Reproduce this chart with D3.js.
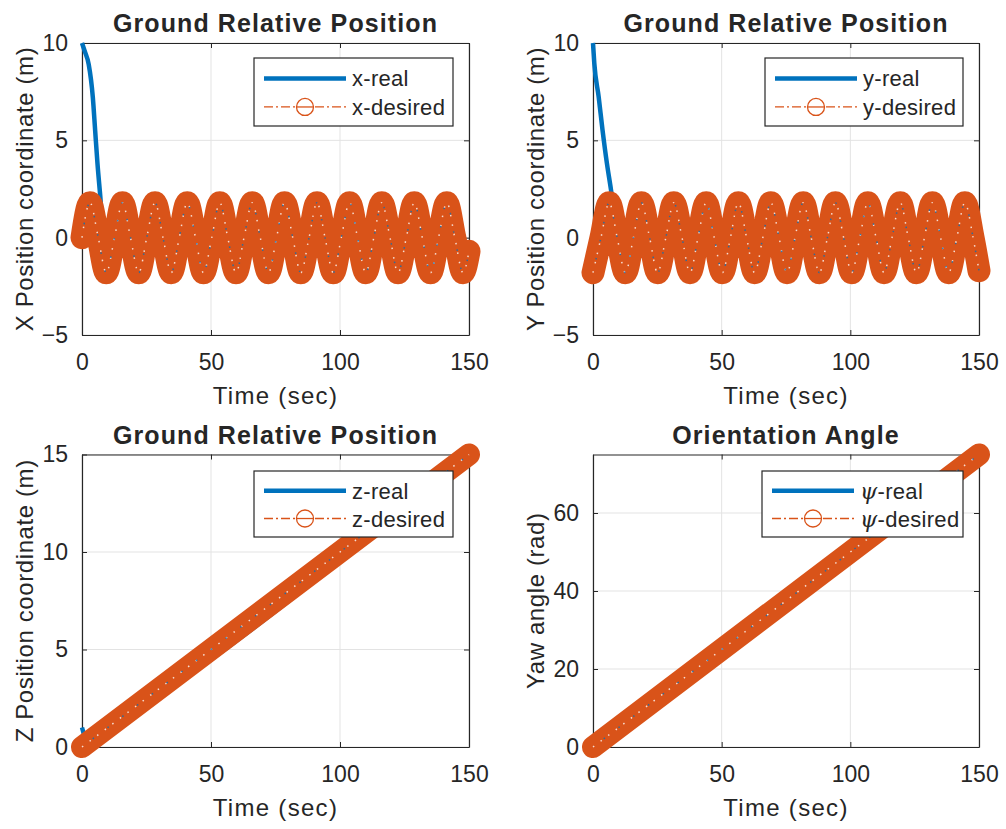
<!DOCTYPE html>
<html>
<head>
<meta charset="utf-8" />
<script src="https://d3js.org/d3.v7.min.js"></script>
<style>
  body { margin: 0; background: #fff; }
  svg { display: block; }
  text { font-family: "Liberation Sans", Arial, sans-serif; fill: #262626; }
</style>
</head>
<body>
<svg width="1006" height="829"></svg>
<script>
// time samples of the desired trajectories (peaks / zero crossings)
const tDes = [0.0, 3.1, 6.3, 9.4, 12.6, 15.7, 18.8, 22.0, 25.1, 28.3, 31.4, 34.6,
  37.7, 40.8, 44.0, 47.1, 50.3, 53.4, 56.5, 59.7, 62.8, 66.0, 69.1, 72.3,
  75.4, 78.5, 81.7, 84.8, 88.0, 91.1, 94.2, 97.4, 100.5, 103.7, 106.8, 110.0,
  113.1, 116.2, 119.4, 122.5, 125.7, 128.8, 131.9, 135.1, 138.2, 141.4, 144.5, 147.7, 150];
const xDes = [0, 1.8, 0, -1.8, 0, 1.8, 0, -1.8, 0, 1.8, 0, -1.8,
  0, 1.8, 0, -1.8, 0, 1.8, 0, -1.8, 0, 1.8, 0, -1.8,
  0, 1.8, 0, -1.8, 0, 1.8, 0, -1.8, 0, 1.8, 0, -1.8,
  0, 1.8, 0, -1.8, 0, 1.8, 0, -1.8, 0, 1.8, 0, -1.8, -0.7];
const yDes = [-1.8, 0, 1.8, 0, -1.8, 0, 1.8, 0, -1.8, 0, 1.8, 0,
  -1.8, 0, 1.8, 0, -1.8, 0, 1.8, 0, -1.8, 0, 1.8, 0,
  -1.8, 0, 1.8, 0, -1.8, 0, 1.8, 0, -1.8, 0, 1.8, 0,
  -1.8, 0, 1.8, 0, -1.8, 0, 1.8, 0, -1.8, 0, 1.8, 0, -1.7];

// start-up transients of the real trajectories (after that they track the desired ones)
const tXReal = [0, 1.0, 2.6, 4.2, 5.1, 6.0, 7.1];
const xRealStart = [10, 9.6, 8.9, 7.2, 5.5, 3.8, 2.1];
const tYReal = [0, 0.5, 2.2, 3.7, 5.4, 7.0];
const yRealStart = [10, 8.96, 7.24, 5.53, 3.82, 2.45];

const tZ = [0, 1.2, 2.5, 5, 150];
const zReal = [1.0, 0.5, 0.3, 0.5, 15];
const tZDes = [0, 150];
const zDes = [0, 15];

const tPsi = [0, 150];
const psiReal = [0, 75];
const psiDes = [0, 75];

const xTicks = [0, 50, 100, 150];
const blue = "#0072BD";
const orange = "#D95319";

function pairs(t, v) {
  return t.map((d, i) => [d, v[i]]);
}
// real = transient, then the tracked desired path
function tracked(tStart, vStart, tD, vD) {
  const last = tStart[tStart.length - 1];
  return pairs(tStart, vStart).concat(pairs(tD, vD).filter(d => d[0] > last + 1));
}

const panels = [
  { box: [82, 469, 43, 335], yDomain: [-5, 10], yTicks: [-5, 0, 5, 10],
    title: "Ground Relative Position", ylabel: "X Position coordinate (m)",
    real: tracked(tXReal, xRealStart, tDes, xDes), des: pairs(tDes, xDes), band: 23,
    curve: d3.curveMonotoneX, names: ["x-real", "x-desired"], legend: [254, 453, 58, 126] },
  { box: [593, 979, 43, 335], yDomain: [-5, 10], yTicks: [-5, 0, 5, 10],
    title: "Ground Relative Position", ylabel: "Y Position coordinate (m)",
    real: tracked(tYReal, yRealStart, tDes, yDes), des: pairs(tDes, yDes), band: 23,
    curve: d3.curveMonotoneX, names: ["y-real", "y-desired"], legend: [765, 963, 58, 126] },
  { box: [82, 469, 454.5, 747], yDomain: [0, 15], yTicks: [0, 5, 10, 15],
    title: "Ground Relative Position", ylabel: "Z Position coordinate (m)",
    real: pairs(tZ, zReal), des: pairs(tZDes, zDes), band: 22,
    curve: d3.curveMonotoneX, names: ["z-real", "z-desired"], legend: [254, 453, 471, 537] },
  { box: [593, 979, 454.5, 747], yDomain: [0, 75], yTicks: [0, 20, 40, 60],
    title: "Orientation Angle", ylabel: "Yaw angle (rad)",
    real: pairs(tPsi, psiReal), des: pairs(tPsi, psiDes), band: 22,
    curve: d3.curveLinear, names: ["ψ-real", "ψ-desired"], legend: [762, 963, 471, 537], greek: true }
];

const svg = d3.select("svg");

panels.forEach(p => {
  const [x0, x1, y0, y1] = p.box;
  const x = d3.scaleLinear().domain([0, 150]).range([x0, x1]);
  const y = d3.scaleLinear().domain(p.yDomain).range([y1, y0]);
  const g = svg.append("g");

  // grid
  g.selectAll("line.gx").data(xTicks).enter().append("line")
    .attr("x1", d => x(d)).attr("x2", d => x(d)).attr("y1", y0).attr("y2", y1)
    .attr("stroke", "#e3e3e3").attr("stroke-width", 1);
  g.selectAll("line.gy").data(p.yTicks).enter().append("line")
    .attr("x1", x0).attr("x2", x1).attr("y1", d => y(d)).attr("y2", d => y(d))
    .attr("stroke", "#e3e3e3").attr("stroke-width", 1);

  // axes (box on, ticks inside)
  const tk = 5;
  g.append("g").attr("transform", `translate(0,${y1})`)
    .call(d3.axisBottom(x).tickValues(xTicks).tickSizeInner(-tk).tickSizeOuter(0).tickPadding(19));
  g.append("g").attr("transform", `translate(0,${y0})`)
    .call(d3.axisTop(x).tickValues(xTicks).tickSizeInner(-tk).tickSizeOuter(0).tickFormat(""));
  g.append("g").attr("transform", `translate(${x0},0)`)
    .call(d3.axisLeft(y).tickValues(p.yTicks).tickSizeInner(-tk).tickSizeOuter(0).tickPadding(14));
  g.append("g").attr("transform", `translate(${x1},0)`)
    .call(d3.axisRight(y).tickValues(p.yTicks).tickSizeInner(-tk).tickSizeOuter(0).tickFormat(""));
  g.selectAll(".domain").attr("stroke", "#262626").attr("stroke-width", 1.2);
  g.selectAll(".tick line").attr("stroke", "#262626");
  g.selectAll(".tick text").style("font-size", "23px").attr("fill", "#262626")
    .style("font-family", "'Liberation Sans', Arial, sans-serif");

  // labels
  g.append("text").attr("x", (x0 + x1) / 2).attr("y", y0 - 11)
    .attr("text-anchor", "middle").style("font-size", "25px").style("font-weight", "bold")
    .style("letter-spacing", "1.1px").text(p.title);
  g.append("text").attr("x", (x0 + x1) / 2).attr("y", y1 + 69)
    .attr("text-anchor", "middle").style("font-size", "24px").style("letter-spacing", "1.3px")
    .text("Time (sec)");
  g.append("text").attr("transform", `translate(${x0 - 49},${(y0 + y1) / 2}) rotate(-90)`)
    .attr("text-anchor", "middle").style("font-size", "24px").style("letter-spacing", "0.6px")
    .text(p.ylabel);

  // data
  const line = d3.line().x(d => x(d[0])).y(d => y(d[1])).curve(p.curve);
  g.append("path").datum(p.real).attr("d", line)
    .attr("fill", "none").attr("stroke", blue).attr("stroke-width", 4.5)
    .attr("stroke-linejoin", "round");
  g.append("path").datum(p.des).attr("d", line)
    .attr("fill", "none").attr("stroke", orange).attr("stroke-width", p.band)
    .attr("stroke-linecap", "round").attr("stroke-linejoin", "round");
  // speckle of the hollow markers / real line showing inside the band
  g.append("path").datum(p.des).attr("d", line)
    .attr("fill", "none").attr("stroke", "#ffffff").attr("stroke-width", 1.5)
    .attr("stroke-dasharray", "1.5,8").attr("opacity", 0.8);
  g.append("path").datum(p.des).attr("d", line)
    .attr("fill", "none").attr("stroke", blue).attr("stroke-width", 1.5)
    .attr("stroke-dasharray", "1.5,17").attr("stroke-dashoffset", 5).attr("opacity", 0.8);

  // legend
  const [lx0, lx1, ly0, ly1] = p.legend;
  const lg = g.append("g");
  lg.append("rect").attr("x", lx0).attr("y", ly0).attr("width", lx1 - lx0).attr("height", ly1 - ly0)
    .attr("fill", "#fff").attr("stroke", "#262626").attr("stroke-width", 1.2);
  const r1 = ly0 + (ly1 - ly0) * 0.3, r2 = ly0 + (ly1 - ly0) * 0.72;
  const sx0 = lx0 + 10, sx1 = lx0 + 92;
  lg.append("line").attr("x1", sx0).attr("x2", sx1).attr("y1", r1).attr("y2", r1)
    .attr("stroke", blue).attr("stroke-width", 4.5);
  lg.append("line").attr("x1", sx0).attr("x2", sx1).attr("y1", r2).attr("y2", r2)
    .attr("stroke", orange).attr("stroke-width", 1.3).attr("stroke-dasharray", "9,3,2,3");
  lg.append("circle").attr("cx", (sx0 + sx1) / 2).attr("cy", r2).attr("r", 8.5)
    .attr("fill", "#fff").attr("stroke", orange).attr("stroke-width", 1.3);
  lg.append("line").attr("x1", (sx0 + sx1) / 2 - 8.5).attr("x2", (sx0 + sx1) / 2 + 8.5)
    .attr("y1", r2).attr("y2", r2).attr("stroke", orange).attr("stroke-width", 1.3);
  [[r1, p.names[0]], [r2, p.names[1]]].forEach(([ry, name]) => {
    const t = lg.append("text").attr("x", sx1 + 6).attr("y", ry + 8).style("font-size", "22px")
      .style("letter-spacing", "0.3px");
    if (p.greek) {
      t.append("tspan").style("font-family", "'DejaVu Serif', serif").style("font-style", "italic")
        .text(name[0]);
      t.append("tspan").text(name.slice(1));
    } else {
      t.text(name);
    }
  });
});
</script>
</body>
</html>
